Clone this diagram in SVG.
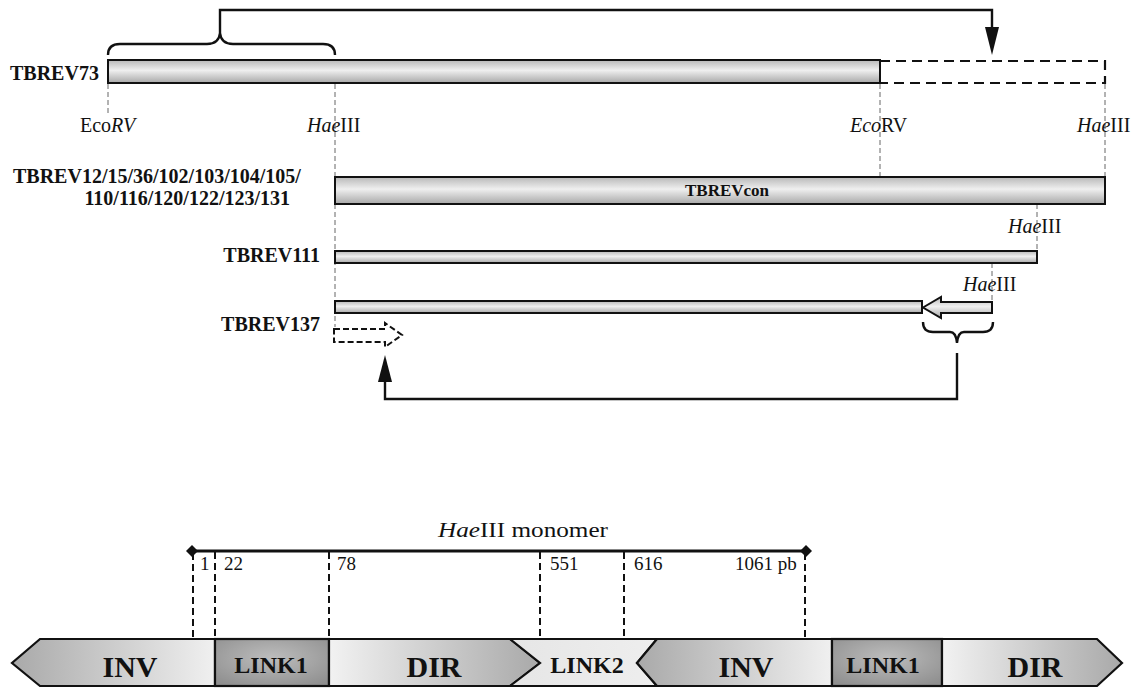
<svg xmlns="http://www.w3.org/2000/svg" width="1136" height="689" viewBox="0 0 1136 689">
<defs>
<linearGradient id="bar" x1="0" y1="0" x2="0" y2="1">
<stop offset="0" stop-color="#b8b8b8"/><stop offset="0.45" stop-color="#efefef"/><stop offset="1" stop-color="#a8a8a8"/>
</linearGradient>
<linearGradient id="invL" x1="0" y1="0" x2="1" y2="0">
<stop offset="0" stop-color="#a9a9a9"/><stop offset="1" stop-color="#f0f0f0"/>
</linearGradient>
<linearGradient id="dirR" x1="0" y1="0" x2="1" y2="0">
<stop offset="0" stop-color="#f2f2f2"/><stop offset="1" stop-color="#a9a9a9"/>
</linearGradient>
<radialGradient id="link1" cx="0.5" cy="0.4" r="0.7">
<stop offset="0" stop-color="#bdbdbd"/><stop offset="1" stop-color="#8f8f8f"/>
</radialGradient>
<linearGradient id="link2" x1="0" y1="0" x2="1" y2="0">
<stop offset="0" stop-color="#e6e6e6"/><stop offset="1" stop-color="#eeeeee"/>
</linearGradient>
</defs>
<style>
text{font-family:"Liberation Serif","Times New Roman",serif;fill:#111}
.lab{font-weight:bold;font-size:20px}
.enz{font-size:20px}
.it{font-style:italic}
.guide{stroke:#666;stroke-width:1;stroke-dasharray:5,3;fill:none}
.bar{fill:url(#bar);stroke:#111;stroke-width:2}
.dash{fill:none;stroke:#111;stroke-width:2.2;stroke-dasharray:10,6}
.ln{fill:none;stroke:#111;stroke-width:2.4}
.head{fill:#111}
.tick{stroke:#111;stroke-width:2;stroke-dasharray:7,4}
.seg{stroke:#111;stroke-width:2.2}
.big{font-weight:bold;font-size:30px}
.mid{font-weight:bold;font-size:24px}
.num{font-size:19px}
</style>

<g id="guides">
<line class="guide" x1="108" y1="84" x2="108" y2="114"/>
<line class="guide" x1="335" y1="84" x2="335" y2="327"/>
<line class="guide" x1="880" y1="84" x2="880" y2="176"/>
<line class="guide" x1="1105" y1="84" x2="1105" y2="177"/>
<line class="guide" x1="1037" y1="204" x2="1037" y2="251"/>
<line class="guide" x1="992" y1="263" x2="992" y2="302"/>
</g>

<g id="tbrev73">
<text class="lab" x="10" y="80">TBREV73</text>
<rect class="bar" x="108" y="60" width="772" height="23"/>
<path class="dash" d="M880,61 L1105,61 L1105,83 L880,83"/>
</g>

<g id="sites">
<text class="enz" x="80" y="132">Eco<tspan class="it">RV</tspan></text>
<text class="enz" x="307" y="132"><tspan class="it">Hae</tspan>III</text>
<text class="enz" x="850" y="132"><tspan class="it">Eco</tspan>RV</text>
<text class="enz" x="1077" y="132"><tspan class="it">Hae</tspan>III</text>
</g>

<g id="tbrevcon">
<text class="lab" x="13" y="183">TBREV12/15/36/102/103/104/105/</text>
<text class="lab" x="290" y="205" text-anchor="end">110/116/120/122/123/131</text>
<rect class="bar" x="335" y="177" width="770" height="27"/>
<text x="727" y="196" text-anchor="middle" style="font-weight:bold;font-size:17px">TBREVcon</text>
</g>

<g id="tbrev111">
<text class="lab" x="320" y="262" text-anchor="end">TBREV111</text>
<rect class="bar" x="335" y="251" width="702" height="12"/>
<text class="enz" x="1008" y="233"><tspan class="it">Hae</tspan>III</text>
</g>

<g id="tbrev137">
<text class="lab" x="320" y="331" text-anchor="end">TBREV137</text>
<rect class="bar" x="335" y="301" width="587" height="12"/>
<path class="bar" d="M923,307.5 L941,297 L941,302 L992,302 L992,313 L941,313 L941,318 Z"/>
<text class="enz" x="963" y="291"><tspan class="it">Hae</tspan>III</text>
<path d="M334,329 L385,329 L385,323 L402,335 L385,347 L385,342 L334,342 Z" fill="none" stroke="#111" stroke-width="2" stroke-dasharray="6,3"/>
</g>

<g id="connectors">
<path class="ln" d="M108,55 Q108,44 120,44 L207,44 Q219,44 220,33 Q221,44 233,44 L323,44 Q335,44 335,55"/>
<path class="ln" d="M220,33 L220,10 L992,10 L992,30"/>
<path class="head" d="M985,27 L999,27 L992,55 Z"/>
<path class="ln" d="M923,322 Q923,332 933,332 L950,332 Q956,332 957,343 Q958,332 964,332 L983,332 Q993,332 993,322"/>
<path class="ln" d="M957,353 L957,399 L385,399 L385,378"/>
<path class="head" d="M378,382 L392,382 L385,355 Z"/>
</g>

<g id="monomer">
<text x="438" y="537" textLength="170" lengthAdjust="spacingAndGlyphs" style="font-size:21px"><tspan class="it">Hae</tspan>III monomer</text>
<line x1="192" y1="551" x2="806" y2="551" stroke="#111" stroke-width="3"/>
<path d="M186,551 L192,545 L198,551 L192,557 Z" fill="#111"/>
<path d="M800,551 L806,545 L812,551 L806,557 Z" fill="#111"/>
<line class="tick" x1="193" y1="553" x2="193" y2="638"/>
<line class="tick" x1="215" y1="552" x2="215" y2="638"/>
<line class="tick" x1="329" y1="552" x2="329" y2="638"/>
<line class="tick" x1="540" y1="552" x2="540" y2="638"/>
<line class="tick" x1="624" y1="552" x2="624" y2="638"/>
<line class="tick" x1="805" y1="553" x2="805" y2="638"/>
<text class="num" x="200" y="570">1</text>
<text class="num" x="224" y="570">22</text>
<text class="num" x="337" y="570">78</text>
<text class="num" x="550" y="570">551</text>
<text class="num" x="634" y="570">616</text>
<text class="num" x="735" y="570">1061 pb</text>
</g>

<g id="inv1">
<path class="seg" d="M215,639 L40,639 L12,663 L40,686 L215,686 Z" fill="url(#invL)"/>
<text class="big" x="130" y="677" text-anchor="middle">INV</text>
</g>
<g id="link1a">
<rect class="seg" x="215" y="639" width="114" height="47" fill="url(#link1)"/>
<text class="mid" x="271" y="673" text-anchor="middle">LINK1</text>
</g>
<g id="dir1">
<path class="seg" d="M329,639 L510,639 L540,663 L510,686 L329,686 Z" fill="url(#dirR)"/>
<text class="big" x="434" y="677" text-anchor="middle">DIR</text>
</g>
<g id="link2">
<path class="seg" d="M510,639 L657,639 L637,663 L657,686 L510,686 L540,663 Z" fill="url(#link2)"/>
<text class="mid" x="587" y="673" text-anchor="middle">LINK2</text>
</g>
<g id="inv2">
<path class="seg" d="M832,639 L657,639 L637,663 L657,686 L832,686 Z" fill="url(#invL)"/>
<text class="big" x="746" y="677" text-anchor="middle">INV</text>
</g>
<g id="link1b">
<rect class="seg" x="832" y="639" width="110" height="47" fill="url(#link1)"/>
<text class="mid" x="883" y="673" text-anchor="middle">LINK1</text>
</g>
<g id="dir2">
<path class="seg" d="M942,639 L1097,639 L1122,663 L1097,686 L942,686 Z" fill="url(#dirR)"/>
<text class="big" x="1035" y="677" text-anchor="middle">DIR</text>
</g>
</svg>
